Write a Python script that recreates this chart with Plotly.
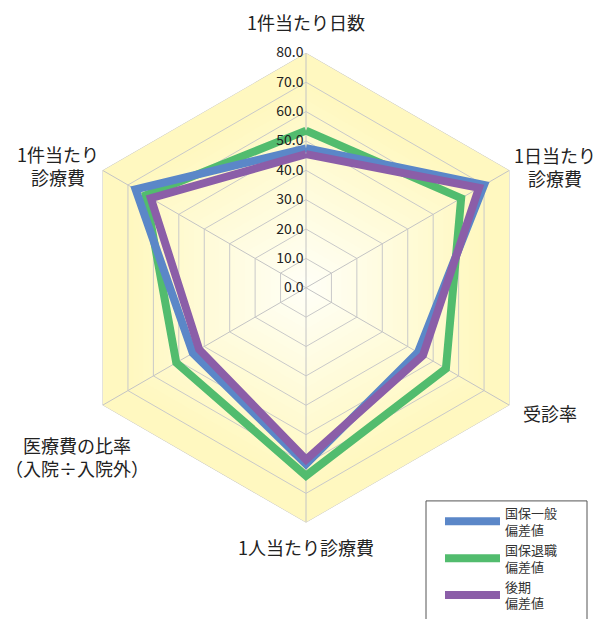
import plotly.graph_objects as go

# 軸ラベル（時計回り、上から）
categories = ["1件当たり日数", "1日当たり<br>診療費", "受診率", "1人当たり診療費",
              "医療費の比率<br>（入院÷入院外）", "1件当たり<br>診療費"]
series_names = ["国保一般<br>偏差値", "国保退職<br>偏差値", "後期<br>偏差値"]
kokuho_ippan = [47.5, 70.0, 44.0, 60.0, 44.5, 67.0]
kokuho_taishoku = [53.5, 61.0, 55.0, 64.0, 51.0, 63.0]
kouki = [45.5, 68.0, 46.0, 58.5, 42.0, 61.0]
tick_vals = [0, 10, 20, 30, 40, 50, 60, 70, 80]

colors = {"ippan": "#5B87C8", "taishoku": "#52BC6E", "kouki": "#8B5EA8"}
r_max = tick_vals[-1]
closed = categories + [categories[0]]
W, H = 600, 619

fig = go.Figure()

# 背景のグラデーション（外側から内側へ塗り重ね）
steps = 40
outer = (255, 248, 192)
inner = (255, 255, 248)
for i in range(steps):
    r = r_max * (steps - i) / steps
    t = min(1.0, r / 70.0)
    c = tuple(round(inner[k] + (outer[k] - inner[k]) * t) for k in range(3))
    fig.add_trace(go.Scatterpolar(
        r=[r] * len(closed), theta=closed, mode="lines", fill="toself",
        fillcolor="rgb(%d,%d,%d)" % c, line=dict(width=0),
        showlegend=False, hoverinfo="skip"))

# グリッド（六角形と放射線）
for t in tick_vals[1:]:
    fig.add_trace(go.Scatterpolar(
        r=[t] * len(closed), theta=closed, mode="lines",
        line=dict(color="#C9C9C9", width=1), showlegend=False, hoverinfo="skip"))
for cat in categories:
    fig.add_trace(go.Scatterpolar(
        r=[0, r_max], theta=[cat, cat], mode="lines",
        line=dict(color="#C4C4C4", width=1), showlegend=False, hoverinfo="skip"))

# データ系列（退職→一般→後期の順で重ねる）
def add_series(vals, name, color, rank):
    fig.add_trace(go.Scatterpolar(
        r=vals + [vals[0]], theta=closed, mode="lines", name=name,
        line=dict(color=color, width=8), legendrank=rank))

add_series(kokuho_taishoku, series_names[1], colors["taishoku"], 2)
add_series(kokuho_ippan, series_names[0], colors["ippan"], 1)
add_series(kouki, series_names[2], colors["kouki"], 3)

# 軸ラベルは注釈で配置
label_pos = [(306, 22), (555, 168), (550, 416), (306, 551), (77, 460), (58, 167)]
for text, (px, py) in zip(categories, label_pos):
    fig.add_annotation(
        x=px / W, y=1 - py / H, xref="paper", yref="paper",
        text=text, showarrow=False, xanchor="center", yanchor="middle",
        font=dict(size=18, color="#222222"))

# 凡例の枠（下辺は画面外まで伸びる）
fig.add_shape(
    type="rect", xref="paper", yref="paper",
    x0=426 / W, x1=587 / W, y0=1 - 640 / H, y1=1 - 505 / H,
    line=dict(color="#555555", width=1), fillcolor="white", layer="above")

fig.update_layout(
    width=W, height=H,
    margin=dict(l=0, r=0, t=0, b=0),
    paper_bgcolor="white",
    font=dict(family="Noto Sans CJK JP", color="#222222"),
    polar=dict(
        domain=dict(x=[0.115, 0.905], y=[0.1486, 0.914]),
        bgcolor="rgba(0,0,0,0)",
        gridshape="linear",
        radialaxis=dict(
            range=[0, r_max], tickvals=tick_vals, tickformat=".1f",
            angle=90, side="counterclockwise", tickangle=90,
            showgrid=False, showline=False, ticks="",
            tickfont=dict(size=14, color="#222222"),
        ),
        angularaxis=dict(
            direction="clockwise", rotation=90,
            showgrid=False, showline=False, showticklabels=False, ticks="",
        ),
    ),
    legend=dict(
        x=440 / W, y=1 - 502 / H, xanchor="left", yanchor="top",
        bgcolor="rgba(0,0,0,0)", borderwidth=0,
        font=dict(size=13, color="#333333"),
        itemwidth=55, tracegroupgap=2,
    ),
)

fig.write_html("out.html", config={"displayModeBar": False},
               post_script="document.body.style.margin='0';")
